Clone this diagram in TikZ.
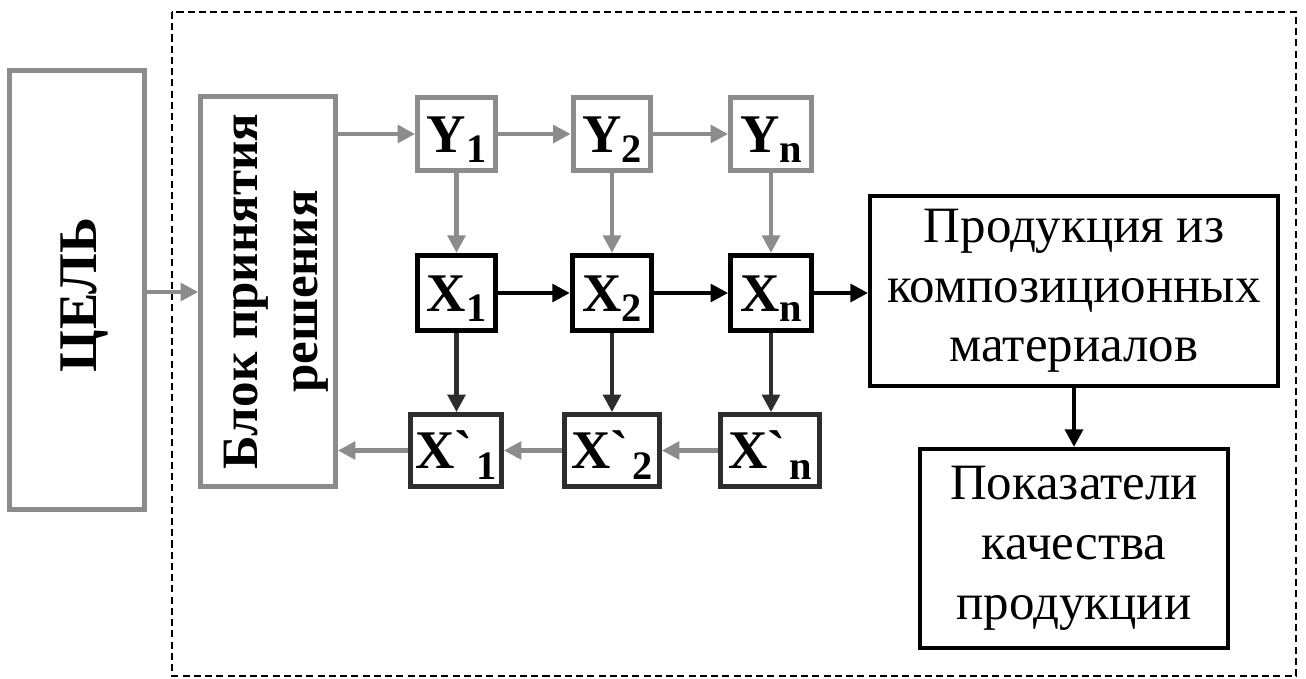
\documentclass[tikz,border=0pt]{standalone}
\usepackage{fontspec}
\setmainfont{Liberation Serif}
\newfontfamily\nomap{Liberation Serif}[Ligatures=TeXOff]
\usetikzlibrary{arrows.meta}
\definecolor{gline}{RGB}{140,140,140}
\definecolor{dline}{RGB}{45,45,45}
\newcommand\sublbl[2]{#1\raisebox{-6pt}{\fontsize{23}{23}\selectfont #2}}
\newcommand\grv{{\nomap\bfseries\symbol{"60}}}
\begin{document}
\begin{tikzpicture}[x=0.02cm,y=-0.02cm,
  gbox/.style={draw=gline,line width=3pt,inner sep=0pt,fill=white},
  kbox/.style={draw=black,line width=3pt,inner sep=0pt,fill=white,
    font=\fontsize{31}{36}\selectfont\bfseries,text height=21pt,text depth=0pt},
  dbox/.style={kbox,draw=dline},
  ybox/.style={gbox,minimum width=1.55cm,minimum height=1.46cm,
    font=\fontsize{31}{36}\selectfont\bfseries,text height=21pt,text depth=0pt},
  tbox/.style={draw=black,line width=2.3pt,inner sep=0pt,align=center,
    font=\fontsize{29}{34}\selectfont},
  rtext/.style={rotate=90,align=center,font=\fontsize{29}{34}\selectfont\bfseries},
  tip/.style={-{Triangle[length=10pt,width=10pt]}},
  garrow/.style={draw=gline,line width=2.4pt,tip},
  karrow/.style={draw=black,line width=2.4pt,tip},
  darrow/.style={draw=dline,line width=2.4pt,tip}]
\useasboundingbox (0,0) rectangle (1306,679);
% dashed frame
\draw[line width=1pt,dash pattern=on 4pt off 2.4pt] (172,12) rectangle (1296,676);
% left boxes
\node[gbox,minimum width=2.69cm,minimum height=8.77cm] (cel) at (77,290) {};
\node[rtext,font=\fontsize{31}{36}\selectfont\bfseries] (celtxt) at (84,295) {ЦЕЛЬ};
\node[gbox,minimum width=2.69cm,minimum height=7.79cm] (blok) at (268,291.5) {};
\node[rtext] (bloktxt) at (276,291.5) {Блок принятия\\решения};
% Y row
\node[ybox] (y1) at (456.5,134) {\sublbl{Y}{1}};
\node[ybox] (y2) at (612,134) {\sublbl{Y}{2}};
\node[ybox,minimum width=1.61cm] (yn) at (771,134) {\sublbl{Y}{n}};
% X row
\node[kbox,minimum width=1.55cm,minimum height=1.5cm] (x1) at (456.5,293) {\sublbl{X}{1}};
\node[kbox,minimum width=1.58cm,minimum height=1.5cm] (x2) at (612,293) {\sublbl{X}{2}};
\node[kbox,minimum width=1.61cm,minimum height=1.5cm] (xn) at (771,293) {\sublbl{X}{n}};
% X' row
\node[dbox,minimum width=1.81cm,minimum height=1.43cm] (xp1) at (456,450.5) {X\grv\kern2pt\sublbl{}{1}};
\node[dbox,minimum width=1.89cm,minimum height=1.43cm] (xp2) at (612,450.5) {X\grv\kern2pt\sublbl{}{2}};
\node[dbox,minimum width=1.97cm,minimum height=1.43cm] (xpn) at (770,450.5) {X\grv\kern2pt\sublbl{}{n}};
% right boxes
\node[tbox,minimum width=8.16cm,minimum height=3.8cm] (prod) at (1074,291) {Продукция из\\композиционных\\материалов};
\node[tbox,minimum width=6.16cm,minimum height=3.98cm] (pok) at (1074,548.5) {Показатели\\качества\\продукции};
% arrows
\draw[garrow] (cel.east |- 0,292) -- (blok.west |- 0,292);
\draw[garrow] (blok.east |- y1) -- (y1.west);
\draw[garrow] (y1) -- (y2);
\draw[garrow] (y2) -- (yn);
\draw[garrow] (y1) -- (x1);
\draw[garrow] (y2) -- (x2);
\draw[garrow] (yn) -- (xn);
\draw[karrow] (x1) -- (x2);
\draw[karrow] (x2) -- (xn);
\draw[karrow] (xn.east) -- (xn.east -| prod.west);
\draw[darrow] (x1.south) -- (x1.south |- xp1.north);
\draw[darrow] (x2.south) -- (x2.south |- xp2.north);
\draw[darrow] (xn.south) -- (xn.south |- xpn.north);
\draw[garrow] (xpn) -- (xp2);
\draw[garrow] (xp2) -- (xp1);
\draw[garrow] (xp1.west) -- (xp1.west -| blok.east);
\draw[karrow] (prod) -- (pok);
\end{tikzpicture}
\end{document}
